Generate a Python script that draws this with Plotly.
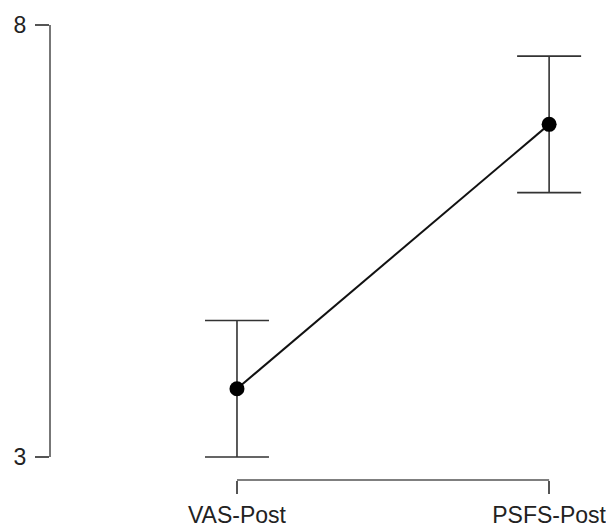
import plotly.graph_objects as go

categories = ["VAS-Post", "PSFS-Post"]
means = [3.79, 6.85]
errors = [0.79, 0.79]
ytick_vals = [3, 8]
ytick_text = ["3", "8"]

xpos = list(range(len(categories)))
axis_color = "#555555"

fig = go.Figure()
fig.add_trace(go.Scatter(
    x=xpos, y=means,
    mode="lines+markers",
    line=dict(color="#111111", width=2),
    marker=dict(color="#000000", size=15),
    error_y=dict(type="data", array=errors, visible=True,
                 color="#333333", thickness=1.6, width=32),
    showlegend=False, hoverinfo="skip", cliponaxis=False,
))

# R-style axis lines spanning only the data / tick range
fig.add_shape(type="line", xref="x", yref="paper", x0=xpos[0], x1=xpos[-1], y0=0, y1=0,
              line=dict(color=axis_color, width=1.6))
fig.add_shape(type="line", xref="paper", yref="y", x0=0, x1=0, y0=ytick_vals[0], y1=ytick_vals[-1],
              line=dict(color=axis_color, width=1.6))

# page body has an 8px margin, so the figure is sized/offset accordingly
fig.update_layout(
    width=606, height=520,
    margin=dict(l=42, r=14, t=12, b=48, autoexpand=False),
    paper_bgcolor="white", plot_bgcolor="white",
    font=dict(family="Liberation Sans, Arial, sans-serif", color="#222222"),
    xaxis=dict(
        range=[-0.599, 1.163], automargin=False,
        tickvals=xpos, ticktext=categories,
        ticks="outside", ticklen=13, tickwidth=1.6, tickcolor=axis_color,
        showline=False, showgrid=False, zeroline=False,
        tickfont=dict(size=23), ticklabelstandoff=1,
    ),
    yaxis=dict(
        range=[2.734, 8.058], automargin=False,
        tickvals=ytick_vals, ticktext=ytick_text,
        ticks="outside", ticklen=14, tickwidth=1.6, tickcolor=axis_color,
        showline=False, showgrid=False, zeroline=False,
        tickfont=dict(size=23), ticklabelstandoff=4,
    ),
)

fig.write_html("out.html")
